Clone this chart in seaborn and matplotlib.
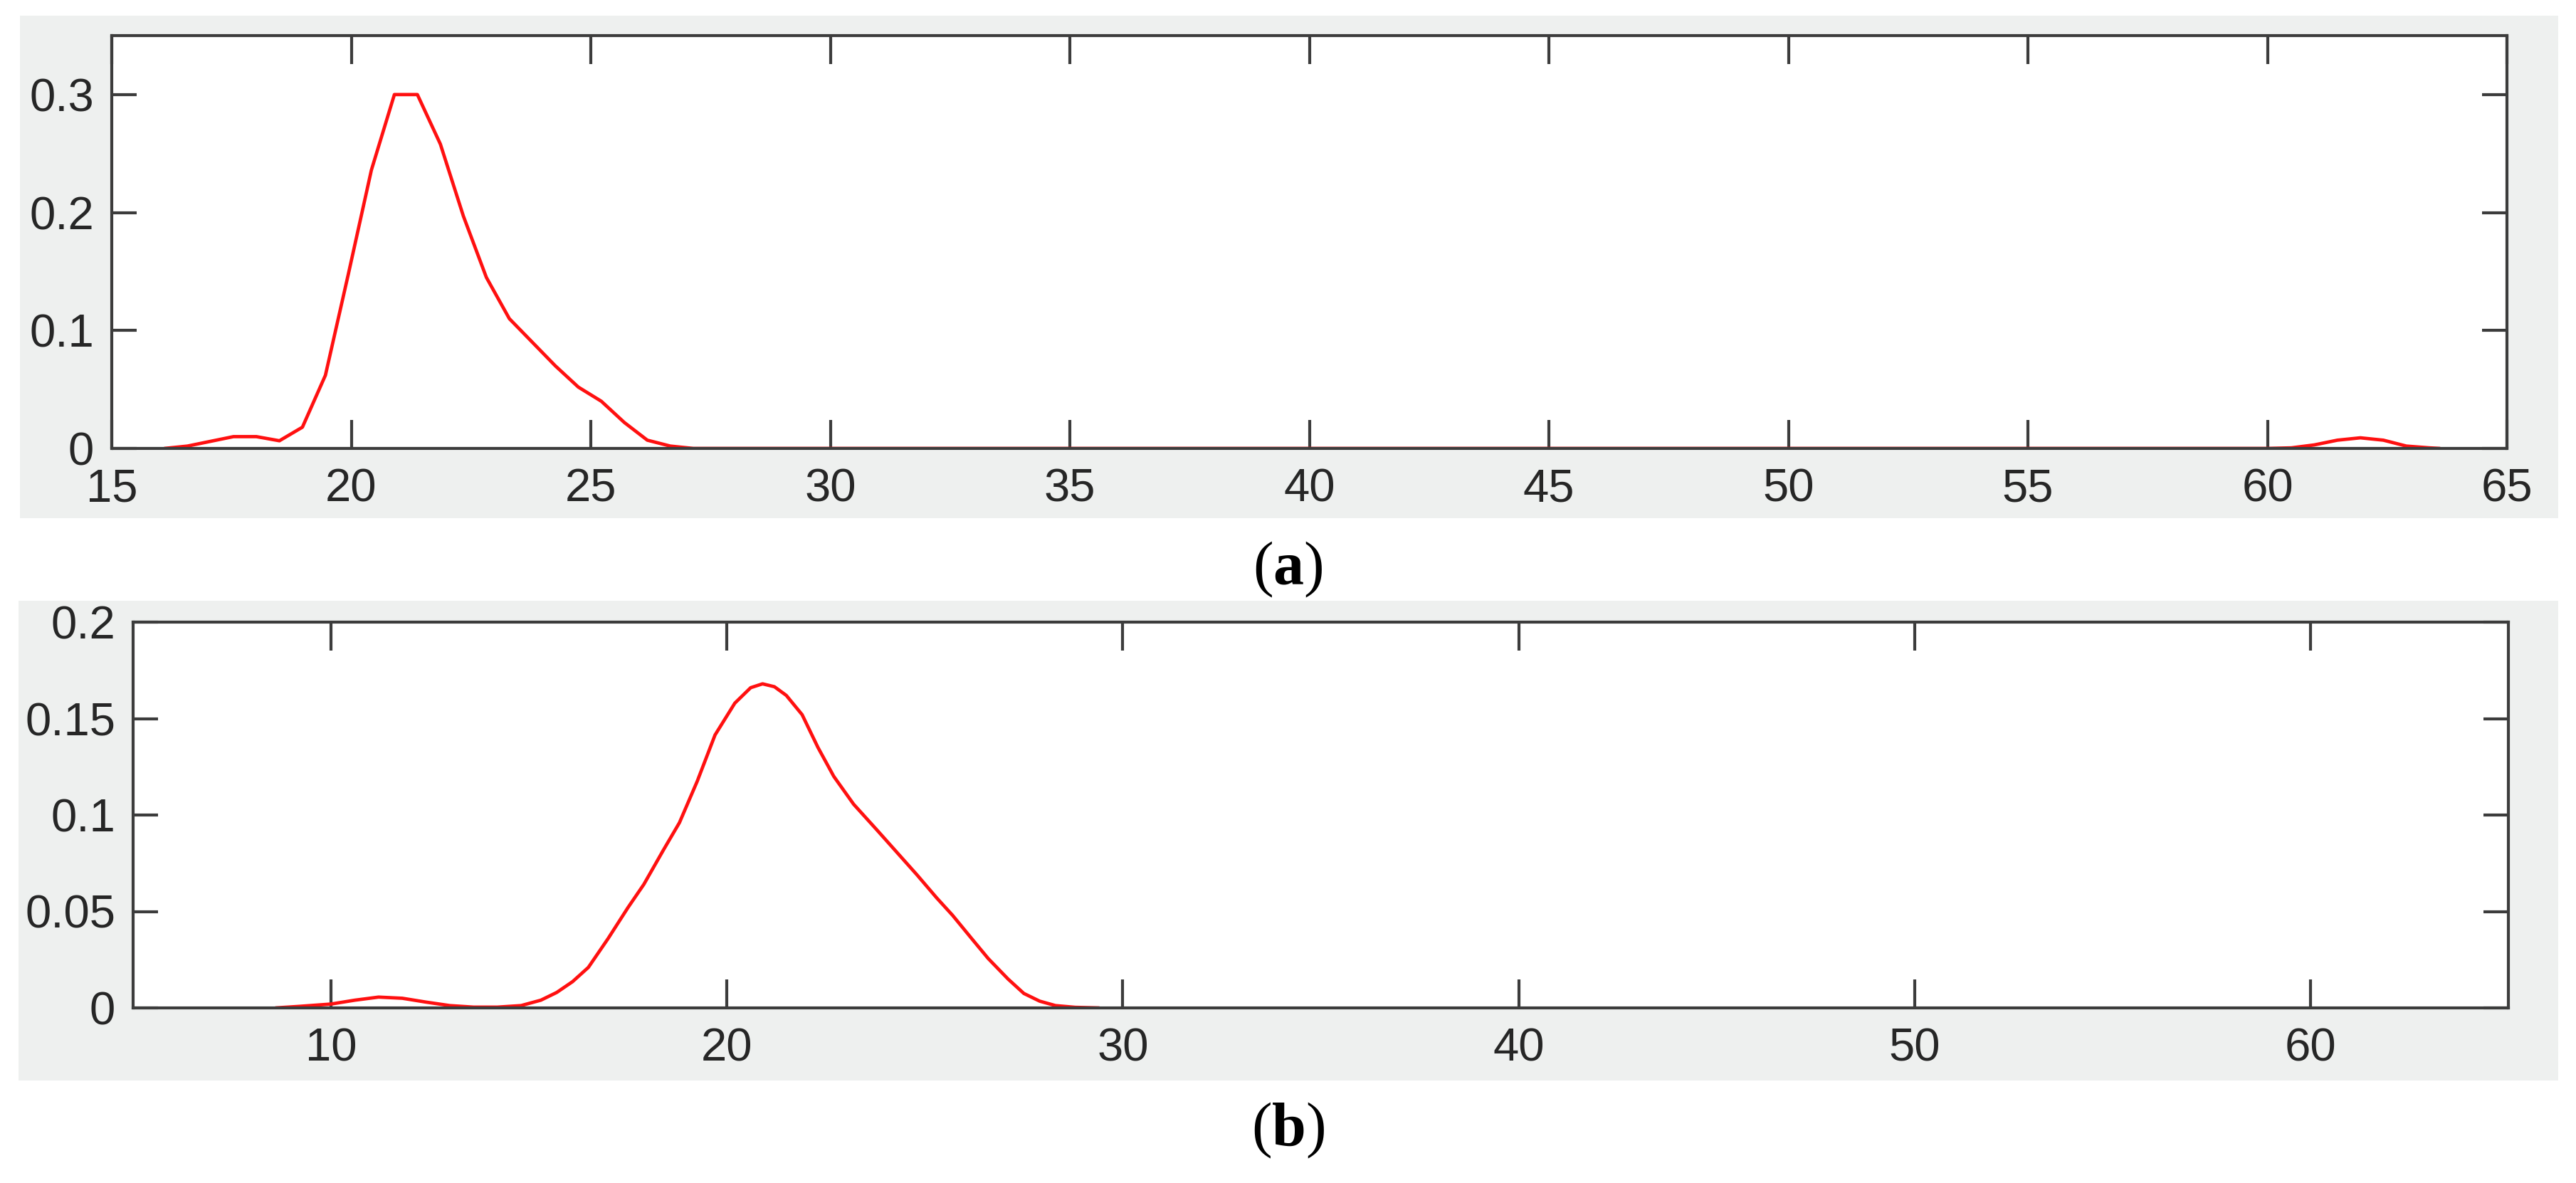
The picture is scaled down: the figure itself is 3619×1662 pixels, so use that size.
"""
Two stacked density curves (MATLAB-style panels) with (a)/(b) captions.
"""
import matplotlib
matplotlib.use("Agg")
import matplotlib.pyplot as plt
from matplotlib.patches import Rectangle
import pandas as pd
import seaborn as sns

# ---- data ----
top_x = [16.1, 16.58, 17.06, 17.54, 18.02, 18.5, 18.98, 19.46, 19.94, 20.42,
         20.9, 21.38, 21.86, 22.34, 22.82, 23.3, 23.78, 24.26, 24.74, 25.22,
         25.7, 26.18, 26.66, 27.14, 60.02, 60.5, 60.98, 61.46, 61.94, 62.42,
         62.9, 63.38, 63.6]
top_y = [0.0, 0.002, 0.006, 0.010, 0.010, 0.0065, 0.018, 0.062, 0.148, 0.236,
         0.300, 0.300, 0.258, 0.197, 0.145, 0.110, 0.090, 0.070, 0.052, 0.040,
         0.022, 0.007, 0.002, 0.0, 0.0, 0.0005, 0.003, 0.007, 0.009, 0.007,
         0.002, 0.0005, 0.0]

bot_x = [8.6, 9.2, 10.0, 10.6, 11.2, 11.8, 12.4, 13.0, 13.6, 14.2, 14.8, 15.3,
         15.7, 16.1, 16.5, 17.0, 17.5, 17.9, 18.4, 18.8, 19.25, 19.7, 20.2,
         20.6, 20.9, 21.2, 21.5, 21.9, 22.3, 22.7, 23.2, 23.8, 24.3, 24.8, 25.3,
         25.7, 26.2, 26.6, 27.1, 27.5, 27.9, 28.3, 28.8, 29.4]
bot_y = [0.0, 0.0008, 0.002, 0.004, 0.0056, 0.005, 0.003, 0.0012, 0.0004,
         0.0004, 0.0012, 0.004, 0.008, 0.0136, 0.021, 0.036, 0.052, 0.064,
         0.082, 0.096, 0.1175, 0.1415, 0.158, 0.166, 0.168, 0.1665, 0.162,
         0.152, 0.135, 0.120, 0.1056, 0.092, 0.0805, 0.069, 0.057, 0.048,
         0.0355, 0.0256, 0.015, 0.0075, 0.0035, 0.0012, 0.0003, 0.0]

top_xticks = [15, 20, 25, 30, 35, 40, 45, 50, 55, 60, 65]
top_yticks = [0, 0.1, 0.2, 0.3]
top_ylabels = ["0", "0.1", "0.2", "0.3"]
bot_xticks = [10, 20, 30, 40, 50, 60]
bot_yticks = [0, 0.05, 0.1, 0.15, 0.2]
bot_ylabels = ["0", "0.05", "0.1", "0.15", "0.2"]
captions = ["a", "b"]

sns.set_style("white")
plt.rcParams["font.family"] = ["Liberation Sans", "DejaVu Sans"]
plt.rcParams["mathtext.fontset"] = "custom"
plt.rcParams["mathtext.bf"] = "Liberation Serif:bold"
plt.rcParams["mathtext.rm"] = "Liberation Serif"

W, H = 3619, 1662
fig = plt.figure(figsize=(W / 100, H / 100), dpi=100)
fig.patch.set_facecolor("white")

# gray panel backgrounds (pixel boxes: left, top, right, bottom)
for (l, t, r, b) in [(28, 22, 3594, 728), (26, 844, 3594, 1518)]:
    fig.patches.append(Rectangle((l / W, 1 - b / H), (r - l) / W, (b - t) / H,
                                 transform=fig.transFigure, facecolor="#eef0ef",
                                 edgecolor="none", zorder=-10))

ax1 = fig.add_axes([157 / W, 1 - 630 / H, (3522 - 157) / W, 580 / H])
ax2 = fig.add_axes([187 / W, 1 - 1416 / H, (3524 - 187) / W, 542 / H])

sns.lineplot(data=pd.DataFrame({"x": top_x, "y": top_y}), x="x", y="y",
             ax=ax1, color="#ff1010", linewidth=3.4, estimator=None)
sns.lineplot(data=pd.DataFrame({"x": bot_x, "y": bot_y}), x="x", y="y",
             ax=ax2, color="#ff1010", linewidth=3.4, estimator=None)

ax1.set_xlim(15, 65)
ax1.set_ylim(0, 0.35)
ax1.set_xticks(top_xticks)
ax1.set_xticklabels([str(v) for v in top_xticks])
ax1.set_yticks(top_yticks)
ax1.set_yticklabels(top_ylabels)

ax2.set_xlim(5, 65)
ax2.set_ylim(0, 0.2)
ax2.set_xticks(bot_xticks)
ax2.set_xticklabels([str(v) for v in bot_xticks])
ax2.set_yticks(bot_yticks)
ax2.set_yticklabels(bot_ylabels)

for ax in (ax1, ax2):
    ax.set_zorder(1)
    ax.set_xlabel("")
    ax.set_ylabel("")
    ax.set_facecolor("white")
    for sp in ax.spines.values():
        sp.set_visible(True)
        sp.set_color("#3c3c3c")
        sp.set_linewidth(3)
    ax.tick_params(axis="x", which="both", direction="in", top=True, bottom=True,
                   length=29, width=3, color="#3c3c3c", labelsize=47,
                   labelcolor="#262626", pad=20)
    ax.tick_params(axis="y", which="both", direction="in", left=True, right=True,
                   length=25, width=3, color="#3c3c3c", labelsize=47,
                   labelcolor="#262626", pad=18)

for lab, ypix in zip(captions, [800, 1588]):
    fig.text(0.5, 1 - ypix / H, r"($\mathbf{%s}$)" % lab, ha="center", va="center",
             fontsize=62, family=["Liberation Serif", "DejaVu Serif"], color="black")

fig.savefig("out.png", dpi=100)
plt.close(fig)
